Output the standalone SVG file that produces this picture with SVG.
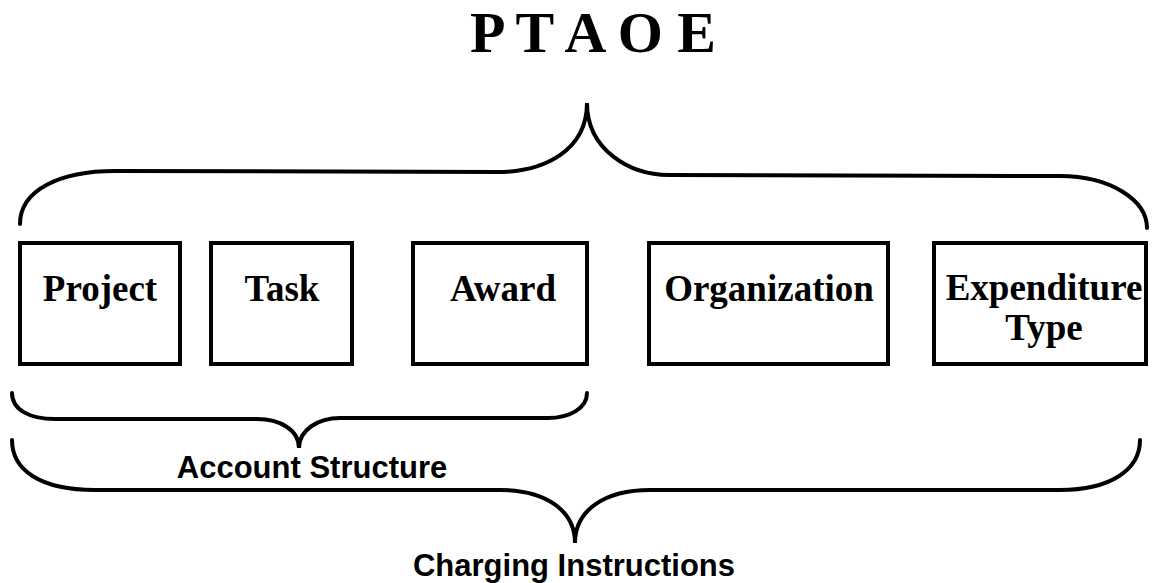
<svg xmlns="http://www.w3.org/2000/svg" width="1152" height="583" viewBox="0 0 1152 583">
<style>
.box{fill:#fff;stroke:#000;stroke-width:4}
.brace{fill:none;stroke:#000;stroke-width:4;stroke-linecap:round;stroke-linejoin:miter}
.lbl{font-family:"Liberation Serif","Times New Roman",serif;font-weight:bold;font-size:37px;text-anchor:middle;fill:#000}
.cap{font-family:"Liberation Sans",Arial,sans-serif;font-weight:bold;font-size:31px;text-anchor:middle;fill:#000}
</style>
<rect width="1152" height="583" fill="#fff"/>
<g id="title"><text x="593" y="52" style="font-family:'Liberation Serif',serif;font-weight:bold;font-size:58px;text-anchor:middle">P T A O E</text></g>
<g id="connectors">
<path class="brace" d="M 20 224 C 20 190, 60 171, 115 171 L 497 172 C 545 172, 587 150, 587 103 C 587 150, 630 175, 669 175 L 1060 176 C 1110 176, 1147 200, 1147 228"/>
<path class="brace" d="M 12 393 C 12 410, 30 419, 55 419 L 257 419 C 280 419, 299 430, 299 448 C 299 430, 318 418, 340 418 L 548 418 C 570 418, 587 408, 587 393"/>
<path class="brace" d="M 12 440 C 12 470, 40 490, 95 490 L 500 490 C 545 490, 575 510, 575 543 C 575 510, 605 490, 650 490 L 1060 490 C 1110 490, 1140 470, 1140 440"/>
</g>
<g id="project"><rect class="box" x="20" y="243" width="160" height="121"/><text class="lbl" x="100" y="301">Project</text></g>
<g id="task"><rect class="box" x="211" y="243" width="141" height="121"/><text class="lbl" x="282" y="301">Task</text></g>
<g id="award"><rect class="box" x="413" y="243" width="174" height="121"/><text class="lbl" x="503" y="301">Award</text></g>
<g id="organization"><rect class="box" x="649" y="243" width="239" height="121"/><text class="lbl" x="769" y="301">Organization</text></g>
<g id="expenditure"><rect class="box" x="934" y="243" width="212" height="121"/><text class="lbl" x="1044" y="300">Expenditure</text><text class="lbl" x="1044" y="340">Type</text></g>
<g id="account-structure"><text class="cap" x="312" y="478">Account Structure</text></g>
<g id="charging-instructions"><text class="cap" x="574" y="576">Charging Instructions</text></g>
</svg>
